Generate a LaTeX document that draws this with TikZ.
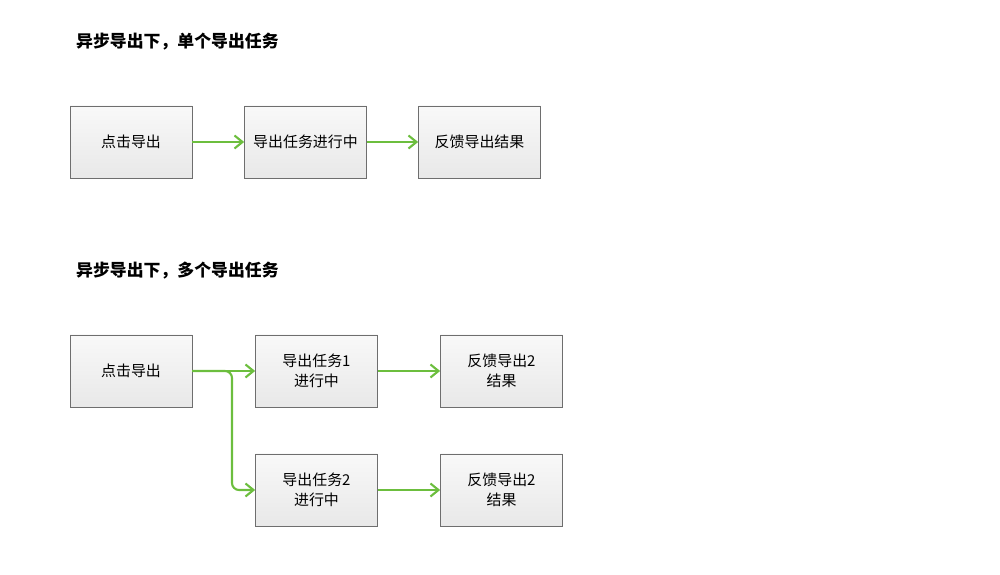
\documentclass[tikz,border=0pt]{standalone}
\usepackage{fontspec}
\setmainfont{Noto Sans CJK SC}
\usetikzlibrary{positioning,arrows.meta}
\definecolor{flowgreen}{RGB}{108,190,62}
\definecolor{boxline}{RGB}{110,110,110}

\begin{document}
\begin{tikzpicture}[
    taskbox/.style={rectangle, draw=boxline, top color=gray!5, bottom color=gray!18, minimum width=2.44cm, minimum height=1.44cm, align=center, font=\fontsize{8.5}{11}\selectfont, inner sep=1pt},
    title/.style={anchor=west, font=\fontsize{9.6}{12}\selectfont\bfseries},
    arrow/.style={-{Straight Barb[length=1.6mm,width=2.6mm]}, flowgreen, line width=1.2pt}
]
    \useasboundingbox (0,0) rectangle (20,11.5);

    % Single export task
    \node[title] (t1) at (1.4, 10.66) {异步导出下，单个导出任务};
    \node[taskbox] (click1) at (2.62, 8.66) {点击导出};
    \node[taskbox] (run1) at (6.11, 8.66) {导出任务进行中};
    \node[taskbox] (res1) at (9.59, 8.66) {反馈导出结果};

    \draw[arrow] (click1) -- (run1);
    \draw[arrow] (run1) -- (res1);

    % Multiple export tasks
    \node[title] (t2) at (1.4, 6.08) {异步导出下，多个导出任务};
    \node[taskbox] (click2) at (2.62, 4.08) {点击导出};
    \node[taskbox] (runA) at (6.33, 4.08) {导出任务1\\进行中};
    \node[taskbox] (resA) at (10.03, 4.08) {反馈导出2\\结果};
    \node[taskbox] (runB) at (6.33, 1.7) {导出任务2\\进行中};
    \node[taskbox] (resB) at (10.03, 1.7) {反馈导出2\\结果};

    \coordinate (fork) at (4.64, 4.08);
    \draw[arrow] (click2) -- (runA);
    \draw[arrow, rounded corners=4pt] (click2.east) -- (fork) |- (runB.west);
    \draw[arrow] (runA) -- (resA);
    \draw[arrow] (runB) -- (resB);
\end{tikzpicture}
\end{document}
